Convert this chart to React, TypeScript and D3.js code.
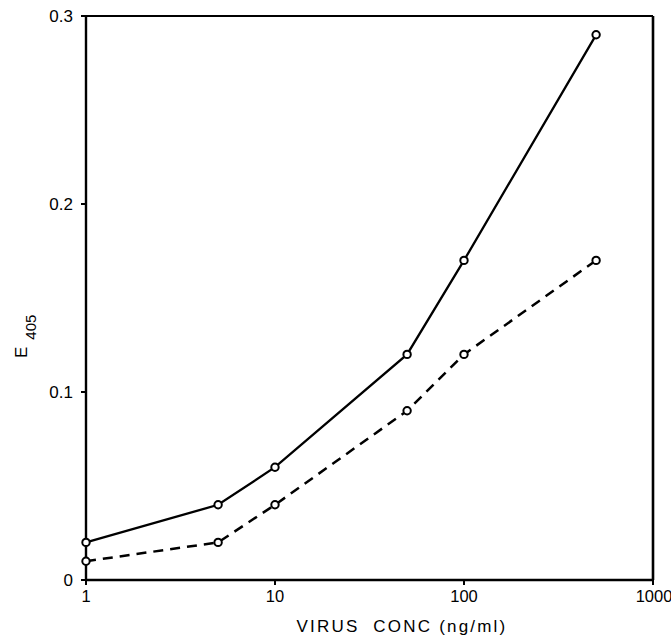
import React from "react";
import * as d3 from "d3";

const concentrations = [1, 5, 10, 50, 100, 500];
const solidSeries = [0.02, 0.04, 0.06, 0.12, 0.17, 0.29];
const dashedSeries = [0.01, 0.02, 0.04, 0.09, 0.12, 0.17];
const xTicks = [1, 10, 100, 1000];
const xTickLabels = ["1", "10", "100", "1000"];
const yTicks = [0, 0.1, 0.2, 0.3];
const yTickLabels = ["0", "0.1", "0.2", "0.3"];

export default function App() {
  const W = 671, H = 640;
  const left = 86, right = 653, top = 16, bottom = 580;
  const x = d3.scaleLog().domain([1, 1000]).range([left, right]);
  const y = d3.scaleLinear().domain([0, 0.3]).range([bottom, top]);
  const line = d3
    .line<number>()
    .x((_, i) => x(concentrations[i]))
    .y((d) => y(d));
  const font = "'Liberation Sans', Arial, sans-serif";
  return (
    <svg width={W} height={H} style={{ position: "absolute", left: 0, top: 0, background: "#fff" }}>
      <rect x={0} y={0} width={W} height={H} fill="#fff" />
      {/* frame */}
      <line x1={left} y1={top - 1} x2={left} y2={bottom} stroke="#000" strokeWidth={2.4} />
      <line x1={left} y1={bottom} x2={right} y2={bottom} stroke="#000" strokeWidth={2.4} />
      <line x1={left} y1={top} x2={right} y2={top} stroke="#000" strokeWidth={2.2} />
      <line x1={right} y1={top} x2={right} y2={bottom} stroke="#000" strokeWidth={2.6} />
      {/* y ticks */}
      {yTicks.map((t, i) => (
        <g key={"y" + i}>
          <line x1={left - 5} x2={left} y1={y(t)} y2={y(t)} stroke="#000" strokeWidth={2} />
          <text x={left - 13} y={y(t)} dy="0.35em" textAnchor="end" fontFamily={font} fontSize={17}>
            {yTickLabels[i]}
          </text>
        </g>
      ))}
      {/* x ticks */}
      {xTicks.map((t, i) => (
        <g key={"x" + i}>
          <line x1={x(t)} x2={x(t)} y1={bottom} y2={bottom + 5} stroke="#000" strokeWidth={2} />
          <text x={i === xTicks.length - 1 ? x(t) + 1 : x(t)} y={bottom + 22} textAnchor="middle" fontFamily={font} fontSize={16.5}>
            {xTickLabels[i]}
          </text>
        </g>
      ))}
      {/* axis titles */}
      <text x={402} y={632} textAnchor="middle" fontFamily={font} fontSize={17} letterSpacing={2.2} style={{ whiteSpace: "pre" }}>
        {"VIRUS  CONC (ng/ml)"}
      </text>
      <text transform="translate(27,358) rotate(-90)" fontFamily={font} fontSize={17}>
        E
        <tspan dx={7} dy={9} fontSize={15}>405</tspan>
      </text>
      {/* series */}
      <path d={line(solidSeries) || ""} fill="none" stroke="#000" strokeWidth={2.3} />
      <path d={line(dashedSeries) || ""} fill="none" stroke="#000" strokeWidth={2.5} strokeDasharray="10,7" />
      {solidSeries.map((v, i) => (
        <circle key={"s" + i} cx={x(concentrations[i])} cy={y(v)} r={3.7} fill="#fff" stroke="#000" strokeWidth={2} />
      ))}
      {dashedSeries.map((v, i) => (
        <circle key={"d" + i} cx={x(concentrations[i])} cy={y(v)} r={3.7} fill="#fff" stroke="#000" strokeWidth={2} />
      ))}
    </svg>
  );
}
